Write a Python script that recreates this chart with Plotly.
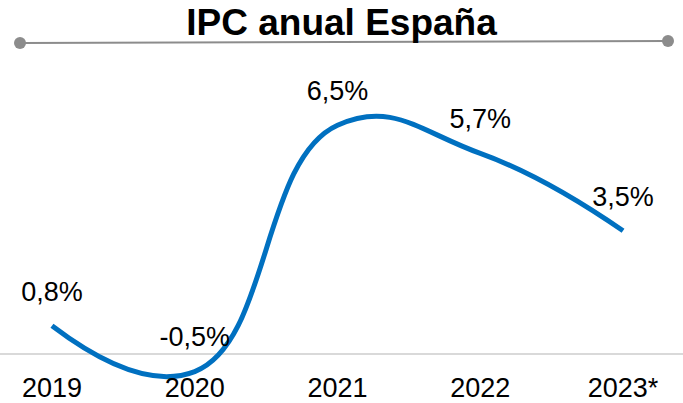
import plotly.graph_objects as go

# IPC anual España

years = ['2019', '2020', '2021', '2022', '2023*']
ipc = [0.8, -0.5, 6.5, 5.7, 3.5]
labels = ['0,8%', '-0,5%', '6,5%', '5,7%', '3,5%']

fig = go.Figure()
fig.add_trace(go.Scatter(
    x=years, y=ipc, mode='lines+markers+text',
    line=dict(color='#0070C0', width=5, shape='spline', smoothing=1.3),
    marker=dict(size=28, opacity=0),
    text=labels, textposition='top center',
    textfont=dict(size=27, color='#000000'),
    cliponaxis=False, hoverinfo='skip',
))

fig.update_layout(
    width=683, height=403,
    margin=dict(l=0, r=0, t=0, b=0, autoexpand=False),
    paper_bgcolor='white', plot_bgcolor='white',
    font=dict(family='Liberation Sans, Arial, sans-serif', color='#000000'),
    showlegend=False,
    title=dict(text='<b>IPC anual España</b>', x=0.5, xanchor='center',
               y=1-22/403, yanchor='middle', font=dict(size=37, color='#000000'),
               automargin=False),
)

fig.update_xaxes(
    type='category', range=[-0.364, 4.42], automargin=False,
    anchor='free', position=0.085,
    showgrid=False, showline=False, ticks='', zeroline=False,
    tickfont=dict(size=27, color='#000000'),
)
fig.update_yaxes(
    range=[-1.392, 10.057], showgrid=False, showticklabels=False,
    automargin=False,
    zeroline=True, zerolinecolor='#D9D9D9', zerolinewidth=2,
)

# gray rule under the title
fig.add_shape(type='line', xref='paper', yref='paper',
              x0=20/683, x1=668/683, y0=1-43/403, y1=1-41/403,
              line=dict(color='#8C8C8C', width=2))
for cx, cy in [(20/683, 1-43/403), (668/683, 1-41/403)]:
    fig.add_shape(type='circle', xref='paper', yref='paper',
                  xsizemode='pixel', ysizemode='pixel',
                  xanchor=cx, yanchor=cy, x0=-6, x1=6, y0=-6, y1=6,
                  fillcolor='#8C8C8C', line=dict(width=0))

fig.write_html('out.html', config={'displayModeBar': False},
               post_script="document.body.style.margin='0';")
